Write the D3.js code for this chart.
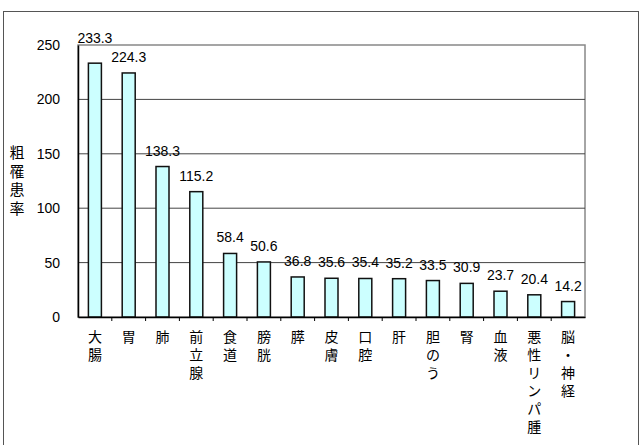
<!DOCTYPE html>
<html>
<head>
<meta charset="utf-8">
<script src="https://cdn.jsdelivr.net/npm/d3@7"></script>
<style>
  body { margin: 0; background: #fff; }
  text { font-family: "Liberation Sans", Arial, sans-serif; }
  .jp { font-family: "Noto Sans CJK JP", sans-serif; }
</style>
</head>
<body>
<svg id="chart" width="643" height="445"></svg>
<script>
const categories = ["大腸", "胃", "肺", "前立腺", "食道", "膀胱", "膵", "皮膚", "口腔", "肝", "胆のう", "腎", "血液", "悪性リンパ腫", "脳・神経"];
const values = [233.3, 224.3, 138.3, 115.2, 58.4, 50.6, 36.8, 35.6, 35.4, 35.2, 33.5, 30.9, 23.7, 20.4, 14.2];
const yTicks = [0, 50, 100, 150, 200, 250];
const yTitle = "粗罹患率";

const svg = d3.select("#chart");
const width = +svg.attr("width");
const height = +svg.attr("height");
const margin = { top: 45, right: 58, bottom: 128, left: 78 };

// outer frame
svg.append("rect")
    .attr("x", 3.5)
    .attr("y", 11.5)
    .attr("width", 635)
    .attr("height", 460)
    .attr("fill", "none")
    .attr("stroke", "#555")
    .attr("stroke-width", 1);

const x = d3.scaleBand()
    .domain(categories)
    .range([margin.left, width - margin.right]);

const y = d3.scaleLinear()
    .domain([0, 250])
    .range([height - margin.bottom, margin.top]);

// plot border (top/right)
svg.append("rect")
    .attr("x", margin.left)
    .attr("y", y(250))
    .attr("width", x.range()[1] - margin.left)
    .attr("height", y(0) - y(250))
    .attr("fill", "none")
    .attr("stroke", "#888")
    .attr("stroke-width", 1.5);

// gridlines
svg.append("g")
    .selectAll("line")
    .data(yTicks.filter(d => d > 0 && d < 250))
    .join("line")
    .attr("x1", margin.left)
    .attr("x2", x.range()[1])
    .attr("y1", d => y(d))
    .attr("y2", d => y(d))
    .attr("stroke", "#444")
    .attr("stroke-width", 1);

// bars
svg.append("g")
    .selectAll("rect")
    .data(values)
    .join("rect")
    .attr("x", (d, i) => x(categories[i]) + x.bandwidth() / 2 - 6.5)
    .attr("y", d => y(d))
    .attr("width", 13)
    .attr("height", d => y(0) - y(d))
    .attr("fill", "#ccffff")
    .attr("stroke", "#111")
    .attr("stroke-width", 1.5);

// value labels - pushed above the plot's top border if they would cross it
svg.append("g")
    .selectAll("text")
    .data(values)
    .join("text")
    .attr("x", (d, i) => x(categories[i]) + x.bandwidth() / 2)
    .attr("y", d => {
        const ly = y(d) - 11;
        return ly - 11 < y(250) ? y(250) - 2 : ly;
    })
    .attr("text-anchor", "middle")
    .attr("font-size", "14px")
    .attr("fill", "#000")
    .text(d => d.toFixed(1));

// y axis
const yAxis = svg.append("g")
    .attr("transform", `translate(${margin.left},0)`)
    .call(d3.axisLeft(y).tickValues(yTicks).tickSize(0).tickPadding(18));
yAxis.select(".domain").attr("stroke", "#000").attr("stroke-width", 1.5);
yAxis.selectAll("text").attr("font-size", "14px").attr("fill", "#000")
    .attr("font-family", "Liberation Sans, Arial, sans-serif");

// x axis
const xAxis = svg.append("g")
    .attr("transform", `translate(0,${y(0)})`)
    .call(d3.axisBottom(x).tickSize(0).tickFormat(""));
xAxis.select(".domain").attr("stroke", "#000").attr("stroke-width", 1.5);

// small ticks between categories
svg.append("g")
    .selectAll("line")
    .data(categories.slice(1))
    .join("line")
    .attr("x1", d => x(d))
    .attr("x2", d => x(d))
    .attr("y1", y(0))
    .attr("y2", y(0) + 4)
    .attr("stroke", "#000")
    .attr("stroke-width", 1);

// category labels, stacked vertically
svg.append("g")
    .selectAll("text")
    .data(categories)
    .join("text")
    .attr("class", "jp")
    .attr("x", d => x(d) + x.bandwidth() / 2)
    .attr("y", y(0) + 25)
    .attr("text-anchor", "middle")
    .attr("font-size", "14px")
    .attr("fill", "#000")
    .each(function(d) {
        const t = d3.select(this);
        Array.from(d).forEach((ch, i) => {
            t.append("tspan")
                .attr("x", x(d) + x.bandwidth() / 2)
                .attr("dy", i === 0 ? 0 : 18)
                .text(ch);
        });
    });

// y title, stacked vertically
svg.append("text")
    .attr("class", "jp")
    .attr("x", 17)
    .attr("y", 158)
    .attr("text-anchor", "middle")
    .attr("font-size", "15px")
    .attr("fill", "#000")
    .selectAll("tspan")
    .data(Array.from(yTitle))
    .join("tspan")
    .attr("x", 17)
    .attr("dy", (d, i) => i === 0 ? 0 : 18.5)
    .text(d => d);
</script>
</body>
</html>
